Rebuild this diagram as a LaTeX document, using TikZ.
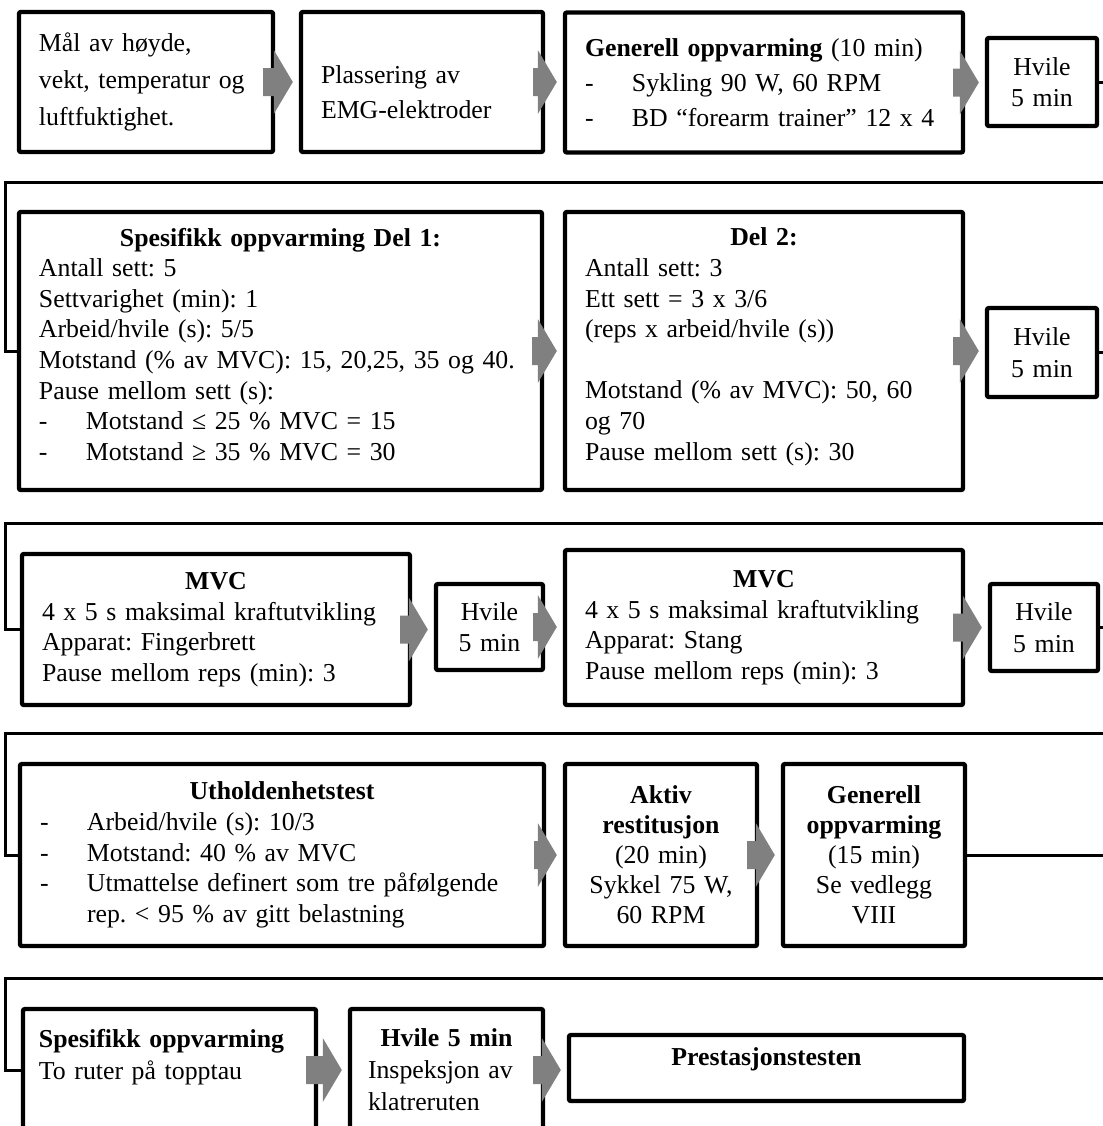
\documentclass[tikz,border=0pt]{standalone}
\usepackage{fontspec}
\setmainfont{Liberation Serif}
\usepackage{tikz}
\usetikzlibrary{arrows.meta, positioning, calc}
\definecolor{arrowgray}{RGB}{128,128,128}
\frenchspacing
\newcommand{\dashitem}{\makebox[23.5pt][l]{-}}
\tikzset{
  testbox/.style={rectangle, draw=black, fill=white, line width=2.2pt,
    rounded corners=1pt, inner xsep=10pt, inner ysep=3pt, align=left,
    font=\fontsize{12.9}{15.3}\selectfont},
  restbox/.style={testbox, align=center, inner xsep=4pt,
    font=\fontsize{12.9}{15.8}\selectfont},
  blockarrow/.style={fill=arrowgray, to path={
    ([xshift=-6pt, yshift=7pt]\tikztostart) -- ([xshift=-12.5pt, yshift=7pt]\tikztotarget)
    -- ([xshift=-12.5pt, yshift=16pt]\tikztotarget) -- ([xshift=-3pt]\tikztotarget)
    -- ([xshift=-12.5pt, yshift=-16pt]\tikztotarget) -- ([xshift=-12.5pt, yshift=-7pt]\tikztotarget)
    -- ([xshift=-6pt, yshift=-7pt]\tikztostart) -- cycle}},
  line/.style={line width=1.5pt, color=black}
}

\begin{document}
\begin{tikzpicture}[x=0.5pt, y=-0.5pt]
  \useasboundingbox (0,0) rectangle (1103,1126);
  \clip (0,0) rectangle (1103,1126);

  \node[testbox, text width=107pt, minimum height=70pt, font=\fontsize{12.9}{18.5}\selectfont] (maal) at (146,82) {Mål av høyde,\\vekt, temperatur og\\luftfuktighet.};
  \node[testbox, text width=101pt, minimum height=70pt, text height=19pt, font=\fontsize{12.9}{17.5}\selectfont] (emg) at (422,82) {Plassering av\\EMG-elektroder};
  \node[testbox, text width=179pt, minimum height=70pt, font=\fontsize{12.9}{17.5}\selectfont] (gen) at (764,82.5) {\textbf{Generell oppvarming} (10 min)\\\dashitem Sykling 90 W, 60 RPM\\\dashitem BD “forearm trainer” 12 x 4};
  \node[restbox, text width=47pt, minimum height=44pt] (hv1) at (1042,82) {Hvile\\5 min};

  \node[testbox, text width=241.5pt, minimum height=139pt, text depth=114pt] (del1) at (280.5,351) {\makebox[\linewidth]{\textbf{Spesifikk oppvarming Del 1:}}\\Antall sett: 5\\Settvarighet (min): 1\\Arbeid/hvile (s): 5/5\\Motstand (\% av MVC): 15, 20,25, 35 og 40.\\Pause mellom sett (s):\\\dashitem Motstand ≤ 25 \% MVC = 15\\\dashitem Motstand ≥ 35 \% MVC = 30};
  \node[testbox, text width=179pt, minimum height=139pt, text depth=114pt] (del2) at (764,351) {\makebox[\linewidth]{\textbf{Del 2:}}\\Antall sett: 3\\Ett sett = 3 x 3/6\\(reps x arbeid/hvile (s))\\[15.3pt]Motstand (\% av MVC): 50, 60\\og 70\\Pause mellom sett (s): 30};
  \node[restbox, text width=47pt, minimum height=44.5pt] (hv2) at (1042,352.5) {Hvile\\5 min};

  \node[testbox, text width=174pt, minimum height=75.5pt] (mvc1) at (216,629.5) {\makebox[\linewidth]{\textbf{MVC}}\\4 x 5 s maksimal kraftutvikling\\Apparat: Fingerbrett\\Pause mellom reps (min): 3};
  \node[restbox, text width=45.5pt, minimum height=43pt] (hv3) at (489.5,627) {Hvile\\5 min};
  \node[testbox, text width=179pt, minimum height=77.5pt] (mvc2) at (764,627.5) {\makebox[\linewidth]{\textbf{MVC}}\\4 x 5 s maksimal kraftutvikling\\Apparat: Stang\\Pause mellom reps (min): 3};
  \node[restbox, text width=46pt, minimum height=43.5pt] (hv4) at (1044,627.5) {Hvile\\5 min};

  \node[testbox, text width=242pt, minimum height=91pt] (uth) at (282,855) {\makebox[\linewidth]{\textbf{Utholdenhetstest}}\\\dashitem Arbeid/hvile (s): 10/3\\\dashitem Motstand: 40 \% av MVC\\\dashitem Utmattelse definert som tre påfølgende\\\hspace*{23.5pt}rep. < 95 \% av gitt belastning};
  \node[restbox, text width=88pt, minimum height=91pt, font=\fontsize{12.9}{15}\selectfont] (akt) at (661,855) {\textbf{Aktiv}\\\textbf{restitusjon}\\(20 min)\\Sykkel 75 W,\\60 RPM};
  \node[restbox, text width=83pt, minimum height=91pt, font=\fontsize{12.9}{15}\selectfont] (gen2) at (874,855) {\textbf{Generell}\\\textbf{oppvarming}\\(15 min)\\Se vedlegg\\VIII};

  \node[testbox, inner xsep=8pt, text width=130.5pt, minimum height=61pt, text depth=32pt, font=\fontsize{12.9}{16}\selectfont] (spes) at (169.5,1070) {\textbf{Spesifikk oppvarming}\\To ruter på topptau};
  \node[testbox, inner xsep=9pt, text width=78.5pt, minimum height=61pt, font=\fontsize{12.9}{16}\selectfont] (insp) at (446.5,1070) {\makebox[\linewidth]{\textbf{Hvile 5 min}}\\Inspeksjon av\\klatreruten};
  \node[restbox, text width=189.5pt, minimum height=33pt, text depth=11pt] (prest) at (766.5,1068) {\textbf{Prestasjonstesten}};

  \coordinate (r1) at (1115,182);
  \coordinate (l1) at (5,182);
  \coordinate (r2) at (1115,523);
  \coordinate (l2) at (5,523);
  \coordinate (r3) at (1115,733);
  \coordinate (l3) at (5,733);
  \coordinate (r4) at (1115,978);
  \coordinate (l4) at (5,978);

  \draw[line] (hv1.east) -| (r1) -- (l1) |- (del1.west);
  \draw[line] (hv2.east) -| (r2) -- (l2) |- (mvc1.west);
  \draw[line] (hv4.east) -| (r3) -- (l3) |- (uth.west);
  \draw[line] (gen2.east) -| (r4) -- (l4) |- (spes.west);

  \path[blockarrow] (maal.east) to (maal.east -| emg.west);
  \path[blockarrow] (emg.east) to (emg.east -| gen.west);
  \path[blockarrow] (gen.east) to (gen.east -| hv1.west);
  \path[blockarrow] (del1.east) to (del1.east -| del2.west);
  \path[blockarrow] (del2.east) to (del2.east -| hv2.west);
  \path[blockarrow] (mvc1.east) to (mvc1.east -| hv3.west);
  \path[blockarrow] (hv3.east) to (hv3.east -| mvc2.west);
  \path[blockarrow] (mvc2.east) to (mvc2.east -| hv4.west);
  \path[blockarrow] (uth.east) to (uth.east -| akt.west);
  \path[blockarrow] (akt.east) to (akt.east -| gen2.west);
  \path[blockarrow] (spes.east) to (spes.east -| insp.west);
  \path[blockarrow] (insp.east) to (insp.east -| prest.west);

\end{tikzpicture}
\end{document}
